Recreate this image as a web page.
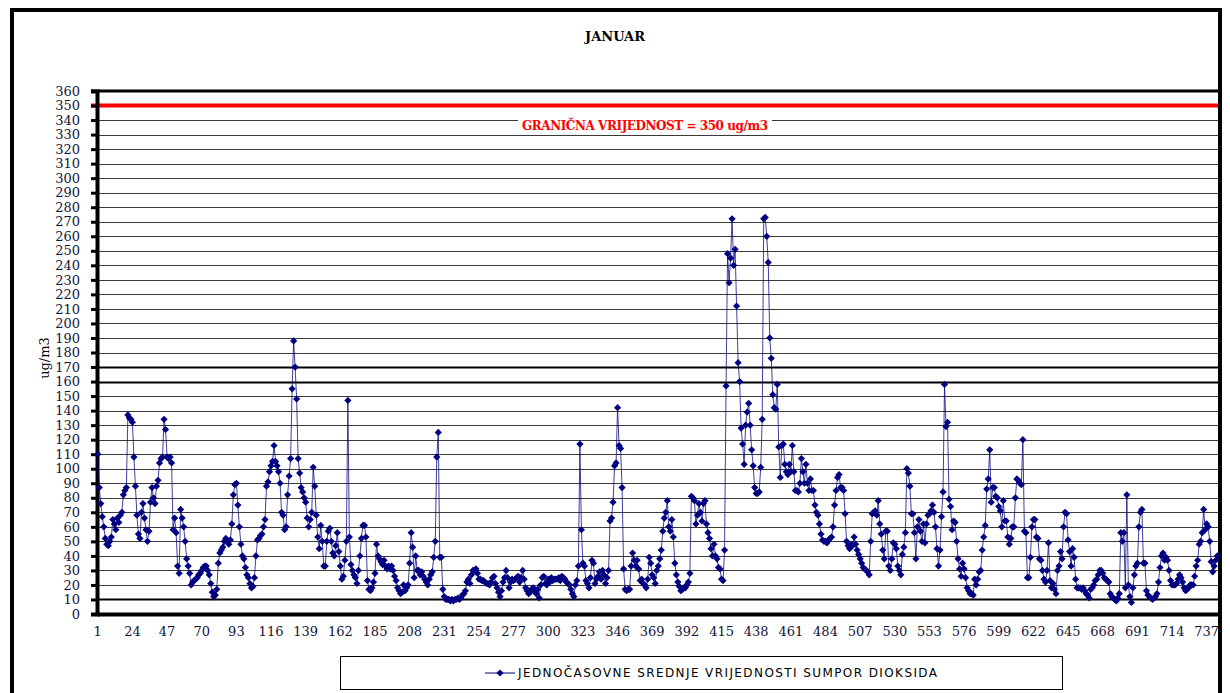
<!DOCTYPE html>
<html>
<head>
<meta charset="utf-8">
<script src="https://cdn.jsdelivr.net/npm/d3@7"></script>
<style>
  body { margin: 0; background: #fff; }
  #chart svg { display: block; }
</style>
</head>
<body>
<div id="chart"></div>
<script>
// hourly SO2 means for January (744 hours)
const so2Values = [
  110, 87, 76, 67, 60, 52, 48, 47, 50, 53, 65, 62, 58, 66, 63, 68, 70, 82, 85, 87, 137, 135, 134, 132,
  108, 88, 68, 55, 52, 70, 76, 66, 58, 50, 57, 77, 87, 80, 76, 88, 92, 104, 107, 108, 134, 127, 108, 107,
  108, 104, 58, 66, 56, 33, 28, 72, 66, 60, 50, 38, 33, 28, 20, 22, 23, 24, 25, 27, 28, 30, 32, 33,
  33, 30, 27, 21, 15, 12, 13, 17, 35, 42, 44, 46, 50, 52, 50, 48, 51, 62, 82, 89, 90, 75, 60, 48,
  40, 38, 32, 27, 25, 21, 18, 19, 25, 40, 51, 52, 54, 55, 60, 65, 88, 91, 98, 102, 105, 116, 105, 102,
  98, 90, 70, 68, 58, 60, 82, 95, 107, 155, 188, 170, 148, 107, 97, 87, 84, 80, 77, 66, 60, 65, 70, 101,
  88, 68, 53, 45, 61, 50, 33, 33, 50, 57, 59, 50, 42, 40, 47, 56, 43, 33, 24, 26, 37, 50, 147, 53,
  34, 30, 27, 25, 21, 30, 40, 52, 61, 61, 53, 23, 17, 16, 18, 22, 28, 48, 40, 38, 36, 34, 37, 33,
  31, 33, 31, 33, 30, 26, 23, 18, 16, 14, 15, 20, 16, 18, 20, 35, 56, 46, 25, 40, 30, 30, 27, 29,
  26, 24, 22, 20, 24, 27, 29, 39, 50, 108, 125, 39, 39, 17, 12, 10, 10, 10, 9, 10, 9, 10, 10, 11,
  10, 11, 13, 14, 16, 22, 24, 21, 27, 30, 30, 31, 28, 24, 24, 23, 23, 22, 21, 21, 20, 22, 25, 26,
  21, 18, 15, 12, 16, 22, 25, 30, 25, 18, 22, 24, 23, 24, 25, 26, 22, 25, 30, 24, 18, 16, 14, 15,
  17, 18, 16, 14, 17, 11, 20, 25, 26, 21, 20, 24, 22, 25, 23, 24, 24, 24, 25, 23, 26, 25, 24, 22, 21,
  20, 17, 14, 12, 20, 23, 33, 117, 58, 35, 33, 23, 21, 18, 25, 37, 35, 21, 24, 26, 29, 24, 30, 27,
  21, 25, 30, 64, 66, 77, 102, 104, 142, 116, 114, 87, 31, 17, 16, 17, 17, 33, 42, 37, 33, 37, 31, 23,
  24, 21, 20, 18, 24, 39, 35, 27, 25, 21, 30, 33, 38, 44, 57, 66, 70, 78, 60, 57, 65, 53, 35, 27,
  22, 19, 16, 17, 18, 18, 20, 22, 28, 81, 80, 78, 62, 68, 76, 70, 64, 76, 78, 62, 56, 52, 45, 40,
  48, 40, 38, 32, 31, 24, 23, 44, 157, 248, 228, 245, 272, 240, 251, 212, 173, 160, 128, 117, 103, 130, 139, 145,
  130, 113, 102, 87, 83, 83, 84, 101, 134, 272, 273, 260, 242, 190, 176, 151, 142, 141, 158, 115, 94, 116, 117, 103,
  98, 96, 103, 98, 116, 98, 85, 85, 84, 90, 107, 98, 90, 103, 90, 85, 93, 85, 85, 75, 70, 68, 62, 55,
  51, 50, 50, 49, 51, 52, 53, 60, 75, 85, 94, 96, 87, 87, 85, 69, 50, 47, 45, 48, 47, 53, 48, 44, 41,
  38, 35, 32, 31, 30, 29, 27, 50, 69, 70, 71, 68, 78, 62, 55, 44, 38, 57, 57, 33, 30, 38, 49, 48,
  45, 33, 30, 27, 41, 46, 56, 100, 97, 88, 69, 69, 56, 38, 60, 65, 57, 50, 62, 49, 62, 68, 69, 71,
  75, 70, 60, 45, 33, 44, 67, 84, 158, 129, 132, 79, 74, 58, 64, 63, 50, 38, 31, 26, 35, 31, 25, 18,
  16, 14, 14, 13, 24, 20, 24, 29, 30, 44, 53, 61, 86, 93, 113, 77, 87, 87, 81, 80, 74, 71, 60, 78,
  64, 64, 53, 48, 52, 60, 60, 80, 93, 92, 90, 89, 120, 57, 56, 25, 25, 39, 60, 65, 65, 53, 52, 38,
  37, 30, 24, 22, 30, 49, 23, 18, 21, 17, 14, 30, 33, 43, 38, 60, 70, 69, 51, 43, 33, 45, 39, 24,
  18, 18, 18, 17, 18, 16, 14, 13, 11, 17, 18, 20, 23, 24, 27, 30, 30, 28, 25, 24, 23, 22, 14, 12,
  11, 10, 9, 11, 14, 56, 50, 56, 18, 82, 20, 12, 8, 18, 27, 33, 35, 60, 70, 72, 35, 35, 16, 13,
  12, 11, 10, 11, 12, 14, 22, 32, 40, 42, 37, 39, 37, 30, 23, 20, 20, 20, 21, 24, 27, 25, 22, 18,
  16, 17, 18, 20, 20, 20, 26, 33, 37, 48, 50, 56, 72, 58, 62, 60, 50, 36, 29, 33, 37, 40
]

const xTickLabels = [1, 24, 47, 70, 93, 116, 139, 162, 185, 208, 231, 254, 277, 300, 323, 346,
  369, 392, 415, 438, 461, 484, 507, 530, 553, 576, 599, 622, 645, 668, 691, 714, 737]
const yTickLabels = [0, 10, 20, 30, 40, 50, 60, 70, 80, 90, 100, 110, 120, 130, 140, 150, 160, 170,
  180, 190, 200, 210, 220, 230, 240, 250, 260, 270, 280, 290, 300, 310, 320, 330, 340, 350, 360]
const boldGridValues = [10, 160, 170]
const limitValue = 350

const titleText = 'JANUAR'
const limitText = 'GRANIČNA VRIJEDNOST = 350 ug/m3'
const yTitle = 'ug/m3'
const seriesName = 'JEDNOČASOVNE SREDNJE VRIJEDNOSTI SUMPOR DIOKSIDA'

const canvasWidth = 1230
const canvasHeight = 693
const plot = {left: 97, top: 91, right: 1218, bottom: 614}
const serif = '"DejaVu Serif", serif'
const navy = '#000080'

const hours = so2Values.map((v, i) => i + 1)

const xScale = d3
  .scaleBand()
  .domain(hours)
  .range([plot.left, plot.right])
const yScale = d3
  .scaleLinear()
  .domain([0, 360])
  .range([plot.bottom, plot.top])
const xMid = h => xScale(h) + xScale.bandwidth() / 2

const svg = d3
  .select('#chart')
  .append('svg')
  .attr('width', canvasWidth)
  .attr('height', canvasHeight)

// outer chart frame
svg
  .append('rect')
  .attr('x', 12)
  .attr('y', 10)
  .attr('width', 1208)
  .attr('height', 720)
  .attr('fill', '#fff')
  .attr('stroke', '#000')
  .attr('stroke-width', 4)

svg
  .append('text')
  .attr('x', 615)
  .attr('y', 41)
  .attr('text-anchor', 'middle')
  .attr('font-family', serif)
  .attr('font-weight', 'bold')
  .attr('font-size', 13)
  .text(titleText)

// horizontal grid
svg
  .append('g')
  .selectAll('line')
  .data(yTickLabels.filter(v => v > 0 && v < 360 && v !== limitValue))
  .join('line')
  .attr('x1', plot.left)
  .attr('x2', plot.right)
  .attr('y1', d => Math.round(yScale(d)) + 0.5)
  .attr('y2', d => Math.round(yScale(d)) + 0.5)
  .attr('stroke', d => (boldGridValues.includes(d) ? '#000' : '#3a3a3a'))
  .attr('stroke-width', d => (boldGridValues.includes(d) ? 2 : 1))

// plot top border
svg
  .append('line')
  .attr('x1', plot.left - 6)
  .attr('x2', plot.right)
  .attr('y1', plot.top)
  .attr('y2', plot.top)
  .attr('stroke', '#000')
  .attr('stroke-width', 3)

// limit line
svg
  .append('line')
  .attr('x1', plot.left - 6)
  .attr('x2', plot.right)
  .attr('y1', yScale(limitValue))
  .attr('y2', yScale(limitValue))
  .attr('stroke', '#ff0000')
  .attr('stroke-width', 4)

// limit label sits in a white box over the grid
svg
  .append('rect')
  .attr('x', 518)
  .attr('y', 120)
  .attr('width', 254)
  .attr('height', 13)
  .attr('fill', '#fff')

svg
  .append('text')
  .attr('x', 645)
  .attr('y', 130)
  .attr('text-anchor', 'middle')
  .attr('font-family', serif)
  .attr('font-weight', 'bold')
  .attr('font-size', 12)
  .attr('fill', '#ff0000')
  .attr('textLength', 246)
  .text(limitText)

// y axis
const yAxis = svg
  .append('g')
  .attr('transform', `translate(${plot.left}, 0)`)
  .call(
    d3
      .axisLeft(yScale)
      .tickValues(yTickLabels)
      .tickSize(6)
      .tickPadding(11),
  )
yAxis.select('.domain').attr('stroke-width', 4)
yAxis.selectAll('.tick line').attr('stroke-width', 3)
yAxis
  .selectAll('.tick text')
  .attr('font-family', serif)
  .attr('font-size', 13)
  .attr('fill', '#141438')

// x axis
const xAxis = svg
  .append('g')
  .attr('transform', `translate(0, ${plot.bottom})`)
  .call(
    d3
      .axisBottom(xScale)
      .tickValues(xTickLabels)
      .tickSize(0)
      .tickPadding(13),
  )
xAxis.select('.domain').attr('stroke-width', 4)
xAxis
  .selectAll('.tick text')
  .attr('font-family', serif)
  .attr('font-size', 13)
  .attr('fill', '#141438')

svg
  .append('text')
  .attr('transform', `translate(49, 358) rotate(-90)`)
  .attr('text-anchor', 'middle')
  .attr('font-family', serif)
  .attr('font-size', 13)
  .text(yTitle)

// series
const line = d3
  .line()
  .x((d, i) => xMid(hours[i]))
  .y(d => yScale(d))

svg
  .append('path')
  .datum(so2Values)
  .attr('fill', 'none')
  .attr('stroke', navy)
  .attr('stroke-opacity', 0.75)
  .attr('stroke-width', 1)
  .attr('d', line)

const diamond = 'M0,-3.6L3.6,0L0,3.6L-3.6,0Z'

svg
  .append('g')
  .selectAll('path')
  .data(so2Values)
  .join('path')
  .attr('transform', (d, i) => `translate(${xMid(hours[i])}, ${yScale(d)})`)
  .attr('d', diamond)
  .attr('fill', navy)

// legend
const legend = svg.append('g')
legend
  .append('rect')
  .attr('x', 340.5)
  .attr('y', 656.5)
  .attr('width', 722)
  .attr('height', 33)
  .attr('fill', '#fff')
  .attr('stroke', '#000')
  .attr('stroke-width', 1)
legend
  .append('line')
  .attr('x1', 485)
  .attr('x2', 515)
  .attr('y1', 673)
  .attr('y2', 673)
  .attr('stroke', navy)
  .attr('stroke-width', 1)
legend
  .append('path')
  .attr('transform', 'translate(500, 673)')
  .attr('d', diamond)
  .attr('fill', navy)
legend
  .append('text')
  .attr('x', 518)
  .attr('y', 677)
  .attr('font-family', '"DejaVu Sans", sans-serif')
  .attr('font-size', 12)
  .attr('textLength', 419)
  .text(seriesName)
</script>
</body>
</html>
